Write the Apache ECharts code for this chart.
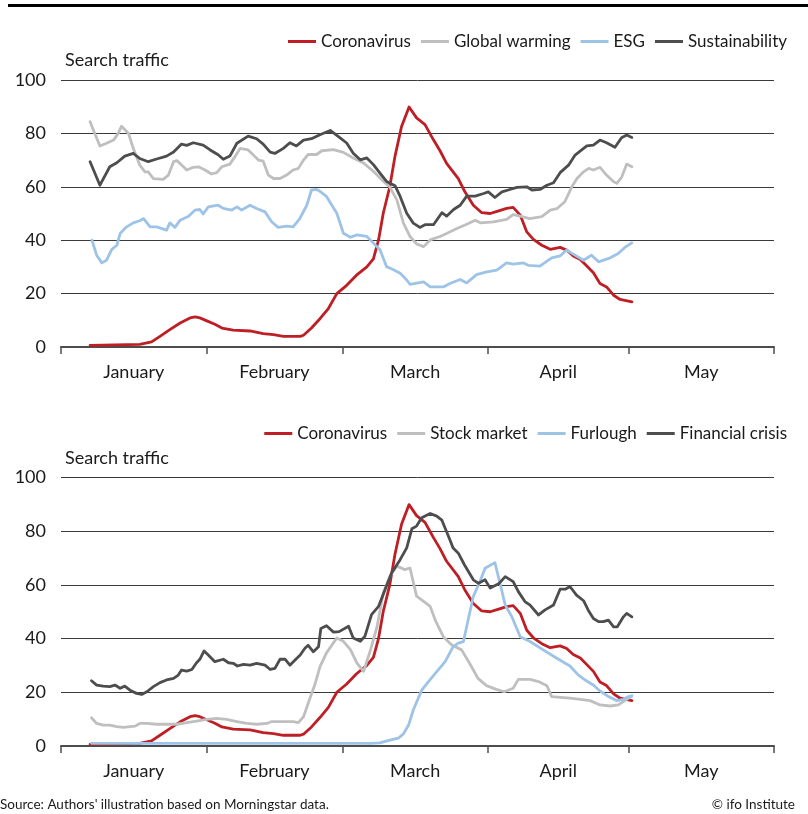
<!DOCTYPE html>
<html>
<head>
<meta charset="utf-8">
<title>Search traffic</title>
<script src="https://cdn.jsdelivr.net/npm/echarts@6/dist/echarts.min.js"></script>
<style>
  html, body { margin: 0; padding: 0; background: #fff; }
  #chart { width: 808px; height: 814px; }
</style>
</head>
<body>
<div id="chart"></div>
<script>
// Month labels and month boundaries, as day-of-year 2020 (Jan 1 = 0)
const monthNames = ['January', 'February', 'March', 'April', 'May'];
const monthStarts = [0, 31, 60, 91, 121, 152];

// Each series: [day of year, search traffic index]
const coronavirus = [[6.2,0.6],[16.8,1.0],[19.3,1.9],[21.1,4.0],[23.2,6.5],[25.4,9.0],[27.5,10.9],[28.6,11.3],[29.6,10.9],[31.1,9.8],[32.8,8.5],[34.3,7.1],[36.7,6.3],[40.3,6.0],[43.1,5.0],[45.3,4.6],[47.4,4.0],[51.0,4.0],[51.7,4.4],[53.4,7.1],[55.2,10.6],[57.0,14.4],[58.8,20.0],[60.9,23.1],[63.0,26.9],[65.2,30.0],[66.6,33.0],[67.7,40.1],[68.7,50.1],[70.1,60.1],[71.2,71.4],[72.6,82.6],[74.2,89.9],[75.8,85.8],[77.6,83.3],[79.4,77.6],[80.8,73.5],[82.2,68.8],[84.7,63.1],[86.1,58.1],[87.9,53.1],[89.7,50.3],[91.5,50.0],[93.3,51.0],[95.0,51.9],[96.4,52.3],[97.9,49.4],[99.3,43.1],[100.7,40.3],[102.5,38.1],[104.3,36.6],[106.4,37.3],[107.8,36.3],[109.2,34.1],[110.7,32.8],[112.1,30.3],[113.5,27.8],[114.9,23.8],[116.3,22.5],[117.8,19.4],[119.2,17.8],[121.7,16.9]];

const globalWarming = [[6.2,84.4],[7.2,80.0],[8.3,75.3],[9.7,76.3],[11.2,77.5],[12.2,80.0],[12.9,82.7],[14.4,80.0],[15.4,74.4],[16.8,68.1],[17.9,65.6],[18.6,65.6],[19.7,63.1],[21.8,62.8],[22.9,64.4],[24.0,69.4],[24.7,69.8],[26.1,67.5],[26.8,66.3],[28.2,67.3],[29.3,67.5],[30.7,66.3],[32.1,64.8],[33.2,65.3],[34.3,67.5],[36.0,68.5],[37.1,71.3],[38.2,74.4],[39.9,73.8],[41.0,71.9],[42.1,70.0],[43.1,69.6],[44.2,64.4],[45.3,63.1],[46.7,63.1],[48.1,64.4],[49.5,66.3],[50.6,66.9],[51.7,70.0],[52.7,72.1],[54.5,72.1],[55.6,73.5],[58.1,73.9],[60.2,72.9],[62.3,70.8],[64.5,68.9],[66.6,65.8],[68.4,62.6],[70.1,59.9],[71.6,55.1],[73.0,46.4],[74.4,41.4],[75.8,38.6],[77.3,37.6],[78.7,40.1],[80.8,41.4],[82.2,42.5],[84.4,44.4],[86.5,46.0],[88.3,47.5],[89.4,46.5],[92.2,46.9],[95.0,47.8],[96.4,49.6],[97.9,49.0],[99.9,48.1],[102.5,48.8],[104.3,51.3],[105.7,51.8],[107.4,54.4],[108.9,60.0],[110.0,63.1],[111.4,65.6],[112.5,66.9],[113.5,66.3],[114.9,67.3],[116.3,64.4],[117.8,61.9],[118.5,61.3],[119.5,63.5],[120.6,68.5],[121.7,67.5]];

const esg = [[6.6,40.0],[7.6,34.4],[8.7,31.5],[9.7,32.5],[10.8,36.5],[11.9,38.1],[12.6,42.5],[14.0,45.0],[15.4,46.5],[16.8,47.3],[17.6,48.1],[19.0,45.0],[20.4,45.0],[22.5,43.8],[23.2,46.5],[24.3,44.8],[25.4,47.5],[27.2,49.0],[28.6,51.3],[29.6,51.5],[30.3,49.8],[31.4,52.5],[33.5,53.1],[34.6,51.9],[36.4,51.3],[37.5,52.5],[38.5,51.3],[40.3,53.1],[41.7,51.9],[43.5,50.6],[44.9,46.9],[46.3,44.8],[48.1,45.3],[49.5,45.0],[50.9,48.1],[52.4,53.1],[53.4,58.8],[54.5,59.0],[55.2,58.3],[56.6,56.4],[58.8,50.1],[60.2,42.6],[61.7,41.1],[63.1,42.0],[65.2,41.4],[66.6,38.9],[68.0,36.4],[69.4,30.1],[70.9,28.9],[72.3,27.6],[73.7,25.1],[74.4,23.5],[77.3,24.4],[78.7,22.5],[81.5,22.5],[82.9,23.8],[85.1,25.3],[86.5,24.0],[88.6,27.1],[90.8,28.1],[92.9,28.8],[95.0,31.5],[96.4,31.0],[98.6,31.5],[99.6,30.6],[102.1,30.3],[104.6,33.4],[106.4,34.1],[107.8,36.3],[109.2,34.8],[111.4,32.5],[113.1,34.4],[114.6,31.9],[117.1,33.4],[118.8,35.0],[120.2,37.3],[121.7,39.0]];

const sustainability = [[6.2,69.4],[8.3,60.6],[10.4,67.5],[11.9,69.0],[13.6,71.5],[15.4,72.5],[16.8,70.6],[18.6,69.4],[20.4,70.4],[22.5,71.5],[24.0,73.0],[25.7,76.0],[26.8,75.5],[28.2,76.5],[30.3,75.6],[31.8,73.8],[33.5,72.0],[34.6,70.3],[36.0,71.5],[37.5,76.3],[39.9,79.0],[41.7,78.0],[43.1,76.0],[44.6,73.0],[45.6,72.5],[47.4,74.4],[48.8,76.5],[50.2,75.3],[51.7,77.5],[53.4,78.0],[55.2,79.5],[57.4,81.1],[59.5,78.3],[60.9,76.4],[62.3,72.6],[63.8,70.1],[65.2,70.8],[66.6,68.3],[68.0,65.1],[69.4,62.0],[71.2,60.4],[72.3,56.4],[73.7,50.1],[75.1,46.4],[76.5,44.8],[77.6,45.8],[79.4,45.8],[81.2,50.3],[82.2,49.0],[83.7,51.5],[85.1,53.1],[86.5,56.5],[88.3,56.5],[90.1,57.5],[91.1,58.1],[92.5,56.0],[94.0,58.1],[95.7,59.0],[97.2,59.8],[99.3,60.0],[100.4,58.8],[102.1,59.0],[103.6,60.6],[105.0,61.5],[106.4,65.3],[108.2,68.1],[109.6,71.9],[111.0,73.8],[112.1,75.3],[113.5,75.6],[114.9,77.5],[116.3,76.5],[118.1,74.8],[119.5,78.4],[120.6,79.4],[121.7,78.5]];

const stockMarket = [[6.5,10.5],[7.6,8.4],[9.0,7.8],[10.4,7.8],[11.9,7.2],[13.3,6.9],[14.7,7.2],[15.8,7.4],[16.8,8.4],[18.3,8.4],[20.4,8.1],[22.5,8.1],[24.7,8.1],[26.8,8.7],[28.9,9.3],[31.1,9.9],[33.2,10.3],[35.3,9.9],[37.5,9.1],[39.6,8.4],[41.7,8.1],[43.9,8.4],[44.9,9.1],[47.4,9.1],[49.5,9.1],[50.6,8.7],[51.7,10.9],[52.7,15.9],[54.2,23.3],[55.2,29.5],[56.6,34.7],[58.8,40.2],[60.2,39.0],[61.7,35.9],[63.1,30.9],[64.5,27.8],[66.0,35.9],[67.4,44.6],[68.7,57.0],[70.1,63.2],[71.6,67.0],[73.3,65.7],[74.4,66.3],[75.8,55.8],[77.3,53.9],[78.7,52.0],[79.8,46.8],[81.5,40.7],[83.3,37.6],[85.4,35.8],[87.1,30.8],[88.9,25.2],[90.7,22.5],[92.8,21.1],[94.5,20.2],[96.4,21.5],[97.5,24.8],[100.0,24.8],[101.8,24.0],[103.6,22.4],[104.6,18.4],[107.1,18.0],[108.5,17.8],[110.7,17.4],[112.8,16.9],[114.9,15.3],[117.1,14.9],[118.8,15.3],[120.2,16.9],[121.7,18.6]];

const furlough = [[6.5,1.0],[30.0,1.0],[50.0,1.0],[66.0,1.0],[68.0,1.2],[70.1,2.2],[71.9,2.9],[73.0,4.5],[74.1,7.8],[75.1,13.4],[76.9,20.8],[78.3,23.9],[80.1,27.7],[81.9,31.4],[83.6,37.0],[84.7,38.3],[85.8,38.9],[86.8,47.0],[87.9,55.7],[89.3,61.2],[90.4,66.2],[92.5,68.3],[93.6,60.6],[94.7,52.5],[96.1,48.2],[97.9,40.7],[100.0,38.9],[102.8,35.8],[105.7,32.7],[108.5,29.8],[110.3,26.4],[111.7,24.6],[113.5,22.7],[114.9,20.5],[116.7,18.4],[118.5,16.9],[119.9,17.4],[121.0,18.4],[121.7,18.7]];

const financialCrisis = [[6.5,24.3],[7.6,22.7],[9.0,22.3],[10.4,22.1],[11.5,22.7],[12.6,21.5],[13.6,22.3],[14.7,20.8],[16.1,19.6],[17.2,19.2],[18.3,20.2],[19.7,22.1],[21.1,23.6],[22.5,24.6],[24.0,25.2],[25.0,26.4],[25.7,28.3],[26.8,27.9],[27.9,28.5],[28.9,31.0],[29.6,32.3],[30.5,35.4],[31.4,33.9],[32.8,31.4],[34.6,32.3],[35.7,31.0],[36.7,30.8],[37.6,29.8],[38.9,30.4],[40.3,30.1],[41.7,30.8],[43.5,30.1],[44.6,28.5],[45.6,28.9],[46.7,32.3],[47.8,32.3],[48.8,30.1],[49.9,32.0],[51.0,33.9],[52.0,36.4],[52.7,37.5],[53.8,35.1],[54.9,37.0],[55.4,43.8],[56.6,44.8],[58.1,42.4],[59.3,42.6],[61.3,44.6],[62.3,40.2],[63.8,39.0],[64.8,40.9],[66.2,48.9],[67.7,52.0],[69.1,58.3],[70.5,64.5],[72.3,69.4],[73.7,73.8],[74.8,80.9],[75.8,81.9],[76.9,85.0],[78.7,86.6],[80.1,85.6],[81.2,84.1],[82.9,76.8],[83.6,73.7],[84.7,71.8],[86.0,67.5],[87.9,61.9],[89.0,60.6],[90.4,61.9],[91.5,58.8],[93.3,60.4],[94.7,63.1],[96.4,61.2],[97.5,57.5],[98.9,53.8],[100.0,52.5],[101.8,48.8],[103.2,50.7],[105.0,52.5],[106.4,58.4],[107.5,58.4],[108.5,59.4],[109.9,56.2],[111.4,54.1],[112.4,50.6],[113.5,47.5],[114.6,46.3],[115.6,46.3],[116.7,46.9],[117.8,44.4],[118.6,44.4],[119.9,48.1],[120.6,49.4],[121.7,48.1]];

const topNames = ['Coronavirus', 'Global warming', 'ESG', 'Sustainability'];
const bottomNames = ['Coronavirus', 'Stock market', 'Furlough', 'Financial crisis'];

const FONT = 'Lato';
const TEXT = '#1a1a1a';
const RED = '#BE1E24', LIGHT = '#BFBFBF', BLUE = '#9DC3E6', DARK = '#4D4D4D';

// label positions: middle of each month
const monthMids = monthNames.map((m, i) => (monthStarts[i] + monthStarts[i + 1]) / 2);

function xAxisFor(gridIndex) {
  return {
    type: 'value', gridIndex, min: monthStarts[0], max: monthStarts[monthStarts.length - 1],
    axisLine: { show: true, lineStyle: { color: '#4d4d4d', width: 2 } },
    axisTick: { show: true, customValues: monthStarts, length: 7, lineStyle: { color: '#4d4d4d', width: 1.5 } },
    axisLabel: {
      customValues: monthMids, margin: 16, fontFamily: FONT, fontSize: 18, color: TEXT,
      formatter: v => monthNames[monthMids.indexOf(v)] || ''
    },
    splitLine: { show: false }
  };
}
function yAxisFor(gridIndex) {
  return {
    type: 'value', gridIndex, min: 0, max: 100, interval: 20,
    axisLine: { show: false }, axisTick: { show: false },
    axisLabel: { margin: 15, fontFamily: FONT, fontSize: 18, color: TEXT },
    splitLine: { show: true, lineStyle: { color: '#3a3a3a', width: 1 } }
  };
}
function line(name, data, color, idx) {
  return {
    name, type: 'line', data, xAxisIndex: idx, yAxisIndex: idx,
    showSymbol: false, symbol: 'none', smooth: false,
    lineStyle: { color, width: 2.8, join: 'round', cap: 'round' },
    itemStyle: { color }, emphasis: { disabled: true }
  };
}
const legendBase = {
  icon: 'rect', itemWidth: 28, itemHeight: 3, itemGap: 10,
  textStyle: { fontFamily: FONT, fontSize: 17, color: TEXT }, selectedMode: false
};

const chart = echarts.init(document.getElementById('chart'), null, { renderer: 'canvas' });
chart.setOption({
  animation: false,
  backgroundColor: '#fff',
  grid: [
    { left: 61, right: 34, top: 80, height: 267 },
    { left: 61, right: 34, top: 477.5, height: 268.5 }
  ],
  xAxis: [xAxisFor(0), xAxisFor(1)],
  yAxis: [yAxisFor(0), yAxisFor(1)],
  legend: [
    Object.assign({ data: topNames, right: 16, top: 28 }, legendBase),
    Object.assign({ data: bottomNames, right: 16, top: 420 }, legendBase)
  ],
  series: [
    line('Coronavirus', coronavirus, RED, 0),
    line('Global warming', globalWarming, LIGHT, 0),
    line('ESG', esg, BLUE, 0),
    line('Sustainability', sustainability, DARK, 0),
    line('Coronavirus', coronavirus, RED, 1),
    line('Stock market', stockMarket, LIGHT, 1),
    line('Furlough', furlough, BLUE, 1),
    line('Financial crisis', financialCrisis, DARK, 1)
  ],
  graphic: [
    { type: 'line', shape: { x1: 8, y1: 5.5, x2: 808, y2: 5.5 }, style: { stroke: '#000', lineWidth: 3 } },
    { type: 'text', left: 65, top: 51, style: { text: 'Search traffic', font: '18px ' + FONT, fill: TEXT } },
    { type: 'text', left: 65, top: 449, style: { text: 'Search traffic', font: '18px ' + FONT, fill: TEXT } },
    { type: 'text', left: 0, top: 798, style: { text: "Source: Authors' illustration based on Morningstar data.", font: '13.5px ' + FONT, fill: TEXT } },
    { type: 'text', right: 13, top: 798, style: { text: '\u00A9 ifo Institute', font: '13.5px ' + FONT, fill: TEXT } }
  ]
});
</script>
</body>
</html>
